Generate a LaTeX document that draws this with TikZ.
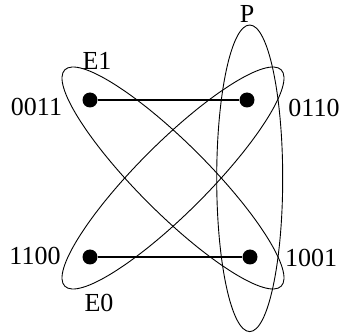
\documentclass[tikz,border=0pt]{standalone}
\usepackage{fontspec}
\setmainfont{Liberation Serif}
\begin{document}
\begin{tikzpicture}[x=1pt,y=-1pt,
  dot/.style={circle,fill=black,inner sep=0pt,minimum size=15pt},
  edge/.style={line width=2.2pt},
  hyper/.style={line width=0.9pt},
  lbl/.style={inner sep=0pt,font=\fontsize{26}{30}\selectfont}]
\useasboundingbox (0,0) rectangle (341,334);
% hyperedges
\coordinate (cE) at (173,178);
\coordinate (cP) at (249.7,178.3);
\draw[hyper,rotate around={-45:(cE)}] (cE) ellipse [x radius=153,y radius=35];
\draw[hyper,rotate around={45:(cE)}] (cE) ellipse [x radius=153,y radius=35];
\draw[hyper] (cP) ellipse [x radius=33,y radius=153.3];
% vertices
\node[dot] (a) at (90,100) {};
\node[dot] (b) at (247,100) {};
\node[dot] (c) at (90,257) {};
\node[dot] (d) at (250,257) {};
\draw[edge] (a) -- (b);
\draw[edge] (c) -- (d);
% labels
\node[lbl] (la) at (36.5,107) {0011};
\node[lbl] (lb) at (314,108) {0110};
\node[lbl] (lc) at (35,256) {1100};
\node[lbl] (ld) at (311,258) {1001};
\node[lbl] (lP) at (247,14) {P};
\node[lbl] (lE1) at (97,61) {E1};
\node[lbl] (lE0) at (99,303) {E0};
\end{tikzpicture}
\end{document}
